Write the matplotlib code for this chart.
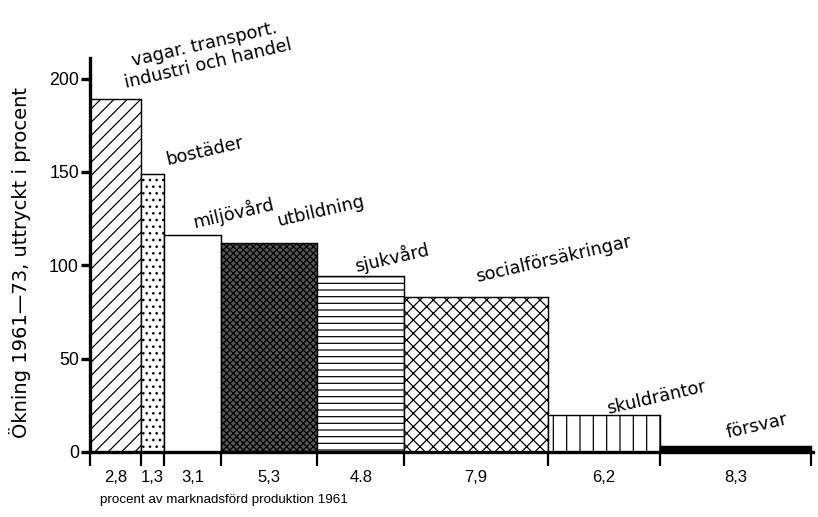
import numpy as np
import matplotlib
matplotlib.use("Agg")
import matplotlib.pyplot as plt

# andel av marknadsförd produktion 1961 (bredd) och ökning 1961-73 (höjd)
labels = ["vagar. transport.\nindustri och handel", "bostäder", "miljövård", "utbildning",
          "sjukvård", "socialförsäkringar", "skuldräntor", "försvar"]
share = [2.8, 1.3, 3.1, 5.3, 4.8, 7.9, 6.2, 8.3]
share_txt = ["2,8", "1,3", "3,1", "5,3", "4.8", "7,9", "6,2", "8,3"]
increase = [189, 149, 116, 112, 94, 83, 20, 3]

# utseende per stapel
hatches = ["//", "..", "", "xxxx", "--", "xx", "|", ""]
faces = ["white", "white", "white", "#555555", "white", "white", "white", "black"]
# textplacering (x, y i dataenheter)
label_pos = [(6.4, 213), (6.3, 161), (7.9, 128), (12.7, 129), (16.6, 104),
             (25.5, 103), (31.2, 29), (36.7, 14)]

plt.rcParams["hatch.linewidth"] = 1.1
plt.rcParams["font.family"] = ["DejaVu Sans"]

fig = plt.figure(figsize=(818 / 80, 517 / 80), dpi=80)
ax = fig.add_axes([90 / 818, 1 - 452 / 517, 723 / 818, 394 / 517])

left = np.concatenate([[0], np.cumsum(share)[:-1]])
edges = np.cumsum(share)
ax.bar(left, increase, width=share, align="edge", color=faces, edgecolor="black",
       hatch=hatches, linewidth=1.3)

for (x, y), t in zip(label_pos, labels):
    ax.text(x, y, t, rotation=13, ha="center", va="center", fontsize=16,
            linespacing=1.1, rotation_mode="anchor", clip_on=False)

ax.set_xlim(0, edges[-1] + 0.1)
ax.set_ylim(0, 211)

ax.spines["top"].set_visible(False)
ax.spines["right"].set_visible(False)
ax.spines["left"].set_linewidth(3)
ax.spines["bottom"].set_linewidth(3)

ax.set_yticks([0, 50, 100, 150, 200])
ax.set_yticklabels(["0", "50", "100", "150", "200"], family="Liberation Sans")
ax.tick_params(axis="y", length=8, width=3, labelsize=16, pad=2)

ax.set_xticks(left + np.array(share) / 2)
ax.set_xticklabels(share_txt, fontsize=15, family="Liberation Sans")
ax.tick_params(axis="x", which="major", length=0, pad=16)
ax.set_xticks(np.concatenate([[0], edges]), minor=True)
ax.tick_params(axis="x", which="minor", length=13, width=2)

fig.text(20 / 818, 1 - 263 / 517, "Ökning 1961—73, uttryckt i procent", fontsize=17.5,
         rotation=90, ha="center", va="center")
fig.text(100 / 818, 1 - 500 / 517, "procent av marknadsförd produktion 1961",
         fontsize=12, family="Liberation Sans", va="center", ha="left")

fig.savefig("out.png", dpi=80)
